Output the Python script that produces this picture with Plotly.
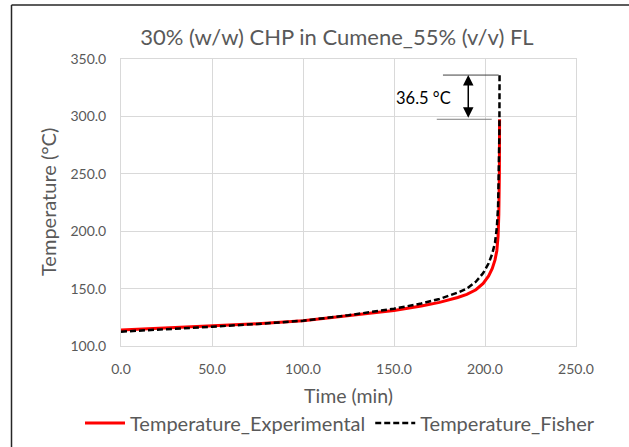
import plotly.graph_objects as go

# ---- data ----
time_exp = [0, 25, 50, 75, 100, 125, 150, 165, 175, 185, 190, 195, 199, 202, 204, 205.5, 206.5, 207.2, 207.6, 207.9, 208.0]
temp_exp = [114.0, 115.6, 117.3, 119.4, 122.0, 126.3, 131.0, 134.8, 138.0, 142.3, 145.0, 149.0, 154.5, 161.0, 167.5, 175.0, 183.0, 196.0, 215.0, 250.0, 297.5]

time_fis = [0, 25, 50, 75, 100, 125, 150, 165, 175, 185, 190, 195, 199, 202, 204, 205.5, 206.5, 207.2, 207.6, 207.9, 208.0]
temp_fis = [112.5, 114.5, 116.8, 119.2, 122.0, 126.8, 132.5, 137.0, 141.0, 146.5, 150.0, 156.0, 163.5, 172.0, 180.5, 190.0, 203.0, 222.0, 250.0, 285.0, 336.0]

x_ticks = [0, 50, 100, 150, 200, 250]
y_ticks = [100, 150, 200, 250, 300, 350]

title_text = "30% (w/w) CHP in Cumene_55% (v/v) FL"
x_title = "Time (min)"
y_title = "Temperature (°C)"
delta_label = "36.5 °C"
arrow_time = 190.8

FONT = "Lato"
GRAY = "#595959"

W, H = 629, 447
L, R, T, B = 121, 53, 59, 101
pw, ph = W - L - R, H - T - B

def px(xp):
    return (xp - L) / pw

def py(yp):
    return (H - B - yp) / ph

fig = go.Figure()
fig.add_trace(go.Scatter(x=time_exp, y=temp_exp, mode="lines", name="Temperature_Experimental",
                         line=dict(color="#FF0000", width=3)))
fig.add_trace(go.Scatter(x=time_fis, y=temp_fis, mode="lines", name="Temperature_Fisher",
                         line=dict(color="#000000", width=2.5, dash="6px,3px")))

top = max(temp_fis)
low = max(temp_exp)

shapes = [
    # outer frame (left and top edges)
    dict(type="line", xref="paper", yref="paper", x0=px(11.5), x1=px(11.5), y0=py(5), y1=py(H + 5),
         line=dict(color="#262626", width=1.5)),
    dict(type="line", xref="paper", yref="paper", x0=px(11.5), x1=px(W + 5), y0=py(5), y1=py(5),
         line=dict(color="#262626", width=1.5)),
    # delta marker lines
    dict(type="line", xref="x", yref="y", x0=176.9, x1=207.5, y0=top, y1=top,
         line=dict(color="#404040", width=1)),
    dict(type="line", xref="x", yref="y", x0=173.5, x1=203.7, y0=low, y1=low,
         line=dict(color="#808080", width=1)),
]

annotations = [
    dict(x=arrow_time, y=top, ax=arrow_time, ay=low, xref="x", yref="y", axref="x", ayref="y",
         text="", showarrow=True, arrowhead=2, startarrowhead=2, arrowside="end+start",
         arrowsize=1.4, arrowwidth=1.5, arrowcolor="#000000"),
    dict(x=px(423), y=py(98), xref="paper", yref="paper", text=delta_label, showarrow=False,
         font=dict(family=FONT, size=16.5, color="#000000"), xanchor="center", yanchor="middle"),
    dict(x=px(348), y=py(395), xref="paper", yref="paper", text=x_title, showarrow=False,
         font=dict(family=FONT, size=19.5, color=GRAY), xanchor="center", yanchor="middle"),
    dict(x=px(48), y=py(202), xref="paper", yref="paper", text=y_title, showarrow=False, textangle=-90,
         font=dict(family=FONT, size=20, color=GRAY), xanchor="center", yanchor="middle"),
]

fig.update_layout(
    width=W, height=H,
    margin=dict(l=L, r=R, t=T, b=B, autoexpand=False),
    paper_bgcolor="white", plot_bgcolor="white",
    title=dict(text=title_text, x=337 / W, y=1 - 37 / H, xref="container", yref="container",
               xanchor="center", yanchor="middle",
               font=dict(family=FONT, size=22, color=GRAY)),
    font=dict(family=FONT, color=GRAY),
    showlegend=True,
    legend=dict(orientation="h", x=px(80), y=py(423), xanchor="left", yanchor="middle",
                font=dict(family=FONT, size=20, color=GRAY), bgcolor="rgba(0,0,0,0)",
                itemwidth=40, tracegroupgap=0),
    shapes=shapes,
    annotations=annotations,
)

fig.update_xaxes(range=[0, 250], tickvals=x_ticks, tickformat=".1f", showgrid=True, gridcolor="#d9d9d9",
                 gridwidth=1, zeroline=False, showline=True, linecolor="#d9d9d9", mirror=True,
                 ticks="outside", ticklen=10, tickcolor="rgba(0,0,0,0)",
                 tickfont=dict(family=FONT, size=14, color=GRAY))
fig.update_yaxes(range=[100, 350], tickvals=y_ticks, tickformat=".1f", showgrid=True, gridcolor="#d9d9d9",
                 gridwidth=1, zeroline=False, showline=True, linecolor="#d9d9d9", mirror=True,
                 ticks="outside", ticklen=11, tickcolor="rgba(0,0,0,0)",
                 tickfont=dict(family=FONT, size=14, color=GRAY))

fig.write_html("out.html")
